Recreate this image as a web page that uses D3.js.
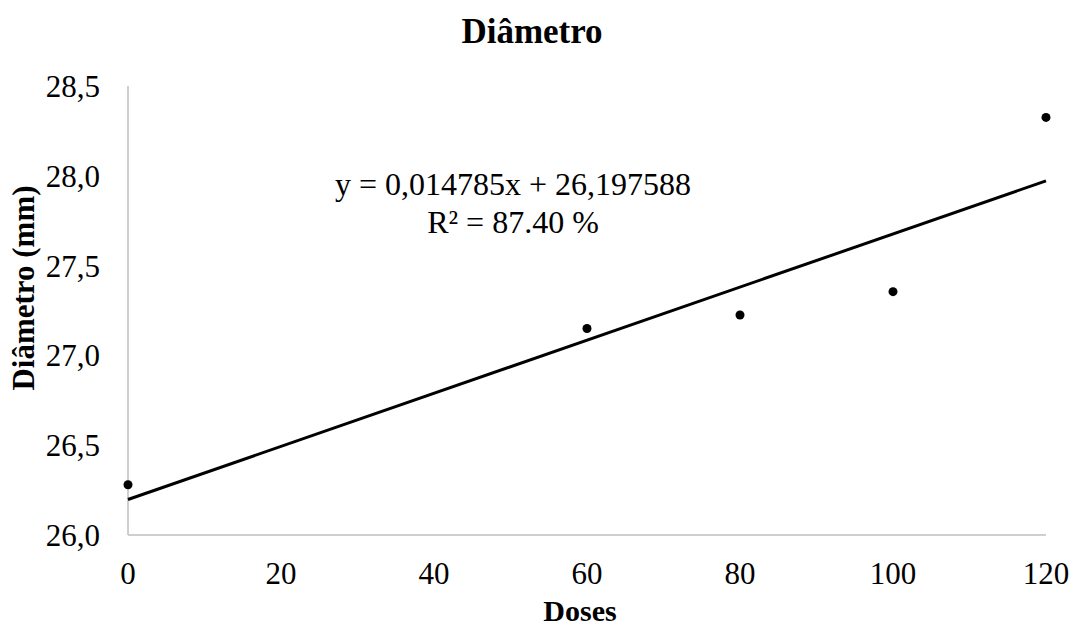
<!DOCTYPE html>
<html lang="en">
<head>
<meta charset="UTF-8">
<title>Diâmetro</title>
<script src="https://d3js.org/d3.v7.min.js"></script>
<style>
  body { margin: 0; background: #fff; }
  text { font-family: "Liberation Serif", "Times New Roman", serif; fill: #000; }
</style>
</head>
<body>
<script>
const doses = [0, 60, 80, 100, 120];
const diametro = [26.28, 27.15, 27.225, 27.355, 28.325];
const xTicks = [0, 20, 40, 60, 80, 100, 120];
const yTicks = [26.0, 26.5, 27.0, 27.5, 28.0, 28.5];
const slope = 0.014785, intercept = 26.197588;
const eqLines = ['y = 0,014785x + 26,197588', 'R² = 87.40 %'];

const width = 1074, height = 630;
const margin = { left: 128, right: 28, top: 86, bottom: 95 };

const svg = d3.select('body').append('svg').attr('width', width).attr('height', height);

const x = d3.scaleLinear().domain([0, 120]).range([margin.left, width - margin.right]);
const y = d3.scaleLinear().domain([26, 28.5]).range([height - margin.bottom, margin.top]);

// axis lines
svg.append('line')
  .attr('x1', x(0)).attr('x2', x(0)).attr('y1', y(28.5)).attr('y2', y(26))
  .attr('stroke', '#bfbfbf').attr('stroke-width', 1.5);
svg.append('line')
  .attr('x1', x(0)).attr('x2', x(120)).attr('y1', y(26)).attr('y2', y(26))
  .attr('stroke', '#bfbfbf').attr('stroke-width', 1.5);

// tick labels
svg.selectAll('.ytick').data(yTicks).join('text')
  .attr('class', 'ytick')
  .attr('x', x(0) - 28).attr('y', d => y(d) + 11)
  .attr('text-anchor', 'end').style('font-size', '31px')
  .text(d => d.toFixed(1).replace('.', ','));

svg.selectAll('.xtick').data(xTicks).join('text')
  .attr('class', 'xtick')
  .attr('x', d => x(d)).attr('y', y(26) + 49)
  .attr('text-anchor', 'middle').style('font-size', '31px')
  .text(d => d);

// trend line
svg.append('line')
  .attr('x1', x(0)).attr('y1', y(intercept))
  .attr('x2', x(120)).attr('y2', y(slope * 120 + intercept))
  .attr('stroke', '#000').attr('stroke-width', 3);

// points
svg.selectAll('circle').data(doses).join('circle')
  .attr('cx', d => x(d)).attr('cy', (d, i) => y(diametro[i]))
  .attr('r', 4.5).attr('fill', '#000');

// equation
svg.append('text')
  .attr('x', 513).attr('y', 195)
  .attr('text-anchor', 'middle').style('font-size', '32px')
  .selectAll('tspan').data(eqLines).join('tspan')
  .attr('x', 513).attr('dy', (d, i) => i ? 38 : 0)
  .text(d => d);

// titles
svg.append('text')
  .attr('x', 532).attr('y', 43)
  .attr('text-anchor', 'middle').style('font-size', '35px').style('font-weight', 'bold')
  .text('Diâmetro');

svg.append('text')
  .attr('x', 580).attr('y', 621)
  .attr('text-anchor', 'middle').style('font-size', '30px').style('font-weight', 'bold')
  .text('Doses');

svg.append('text')
  .attr('transform', `translate(34, 288) rotate(-90)`)
  .attr('text-anchor', 'middle').style('font-size', '31px').style('font-weight', 'bold')
  .text('Diâmetro (mm)');
</script>
</body>
</html>
